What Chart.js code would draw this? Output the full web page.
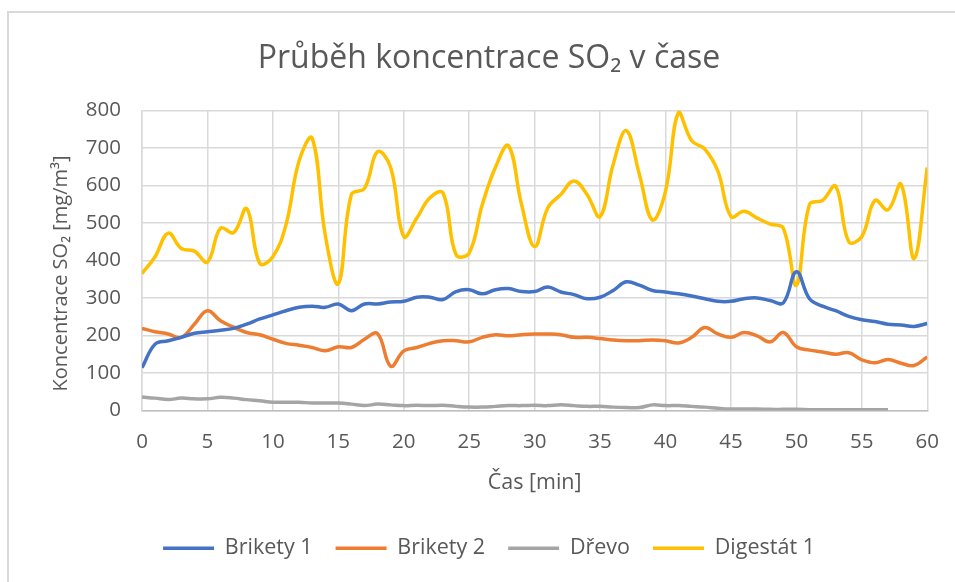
<!DOCTYPE html>
<html lang="cs">
<head>
<meta charset="utf-8">
<title>Průběh koncentrace SO2 v čase</title>
<script src="https://cdn.jsdelivr.net/npm/chart.js@4.4.1/dist/chart.umd.min.js"></script>
<style>
  html, body { margin: 0; padding: 0; background: #fff; }
  #obal { position: relative; width: 955px; height: 582px; }
</style>
</head>
<body>
<div id="obal"><canvas id="graf"></canvas></div>
<script>
// cas mereni [min]
const minuty = [0, 1, 2, 3, 4, 5, 6, 7, 8, 9, 10, 11, 12, 13, 14, 15, 16, 17, 18, 19, 20,
  21, 22, 23, 24, 25, 26, 27, 28, 29, 30, 31, 32, 33, 34, 35, 36, 37, 38, 39, 40,
  41, 42, 43, 44, 45, 46, 47, 48, 49, 50, 51, 52, 53, 54, 55, 56, 57, 58, 59, 60];

// koncentrace SO2 [mg/m3]
const brikety1 = [114, 177, 186, 195, 206, 210, 214, 219, 230, 244,
  255, 266, 275, 278, 275, 284, 266, 284, 284, 289,
  291, 302, 302, 296, 317, 322, 311, 322, 325, 317,
  317, 329, 316, 309, 298, 302, 320, 343, 334, 320,
  316, 311, 305, 298, 291, 291, 298, 300, 293, 287,
  370, 298, 278, 266, 251, 242, 237, 230, 228, 224, 232];
const brikety2 = [219, 210, 204, 195, 230, 266, 239, 222, 208, 202,
  190, 179, 174, 168, 159, 170, 168, 190, 205, 118,
  159, 168, 179, 186, 186, 183, 195, 202, 199, 202,
  204, 204, 202, 195, 195, 192, 188, 186, 186, 188,
  186, 180, 195, 221, 204, 195, 208, 199, 183, 208,
  170, 161, 156, 150, 154, 135, 127, 136, 126, 120, 143];
const drevo = [36, 33, 29, 33, 31, 31, 35, 33, 29, 26,
  22, 22, 22, 20, 20, 20, 17, 13, 17, 15,
  13, 14, 13, 14, 11, 9, 9, 11, 13, 13,
  14, 13, 15, 13, 11, 11, 9, 8, 8, 15,
  13, 13, 11, 9, 6, 4, 4, 4, 3, 3,
  3, 2, 2, 2, 2, 2, 2, 2, null, null, null];
const digestat1 = [365, 410, 473, 432, 425, 396, 486, 474, 538, 392,
  410, 495, 665, 726, 468, 338, 576, 592, 690, 648,
  464, 513, 567, 580, 415, 420, 549, 648, 706, 549,
  437, 540, 576, 612, 576, 517, 656, 746, 630, 508,
  585, 795, 719, 697, 638, 517, 531, 513, 497, 486,
  334, 549, 560, 598, 450, 464, 560, 535, 603, 405, 648];

const casTicks = [0, 5, 10, 15, 20, 25, 30, 35, 40, 45, 50, 55, 60];
const koncTicks = [0, 100, 200, 300, 400, 500, 600, 700, 800];

const serie = [
  { nazev: 'Brikety 1', data: brikety1, barva: '#4472C4' },
  { nazev: 'Brikety 2', data: brikety2, barva: '#ED7D31' },
  { nazev: 'Dřevo', data: drevo, barva: '#A5A5A5' },
  { nazev: 'Digestát 1', data: digestat1, barva: '#FFC000' }
];

const textColor = '#595959';
const gridColor = '#d9d9d9';
const font = '"Open Sans"';

Chart.defaults.font.family = font;
Chart.defaults.color = textColor;

// ramecek grafu (jako v Excelu)
const ramecek = {
  id: 'ramecek',
  beforeDraw: (chart) => {
    const ctx = chart.ctx;
    ctx.save();
    ctx.fillStyle = '#fff';
    ctx.fillRect(0, 0, chart.width, chart.height);
    ctx.strokeStyle = gridColor;
    ctx.lineWidth = 2;
    ctx.beginPath();
    ctx.moveTo(8, chart.height);
    ctx.lineTo(8, 12);
    ctx.lineTo(chart.width, 12);
    ctx.stroke();
    ctx.restore();
  }
};

const data = {
  datasets: serie.map(s => ({
    label: s.nazev,
    data: minuty.map((m, i) => ({ x: m, y: s.data[i] })),
    borderColor: s.barva,
    backgroundColor: s.barva,
    borderWidth: 3.5,
    pointRadius: 0,
    tension: 0.4,
    spanGaps: false
  }))
};

const config = {
  type: 'line',
  data,
  plugins: [ramecek],
  options: {
    responsive: true,
    maintainAspectRatio: false,
    devicePixelRatio: 1,
    animation: false,
    layout: { padding: { left: 23, right: 0, top: 0, bottom: 13 } },
    plugins: {
      title: {
        display: true,
        text: 'Průběh koncentrace SO₂ v čase',
        color: textColor,
        font: { family: font, size: 32, weight: '400' },
        padding: { top: 40, bottom: 32 }
      },
      legend: {
        position: 'bottom',
        labels: {
          color: textColor,
          font: { family: font, size: 21.5 },
          boxWidth: 51,
          boxHeight: 0,
          padding: 23
        }
      },
      tooltip: { enabled: false }
    },
    scales: {
      x: {
        type: 'linear',
        min: 0,
        max: 60,
        afterBuildTicks: (scale) => { scale.ticks = casTicks.map(v => ({ value: v })); },
        afterFit: (scale) => { scale.height = 104; },
        // kratke neviditelne carky jen kvuli odsazeni popisku
        grid: { color: gridColor, lineWidth: 1.5, drawTicks: true, tickLength: 3, tickColor: 'rgba(0,0,0,0)' },
        border: { color: '#bfbfbf', width: 1.5 },
        ticks: { font: { size: 20.5 }, padding: 16, maxRotation: 0 },
        title: {
          display: true,
          text: 'Čas [min]',
          font: { size: 21.5 },
          padding: { top: 0, bottom: 19 }
        }
      },
      y: {
        min: 0,
        max: 800,
        afterBuildTicks: (scale) => { scale.ticks = koncTicks.map(v => ({ value: v })); },
        afterFit: (scale) => { scale.width = 119; },
        grid: { color: gridColor, lineWidth: 1.5, drawTicks: false },
        border: { color: gridColor, width: 1.5 },
        ticks: { font: { size: 20.5 }, padding: 21 },
        title: {
          display: true,
          // mezery na konci posouvaji popisek o kousek niz, jako v predloze
          text: 'Koncentrace SO₂ [mg/m³]\u00a0\u00a0\u00a0\u00a0\u00a0',
          font: { size: 20 },
          padding: { top: 26, bottom: 0 }
        }
      }
    }
  }
};

const graf = new Chart(document.getElementById('graf'), config);
</script>
</body>
</html>
